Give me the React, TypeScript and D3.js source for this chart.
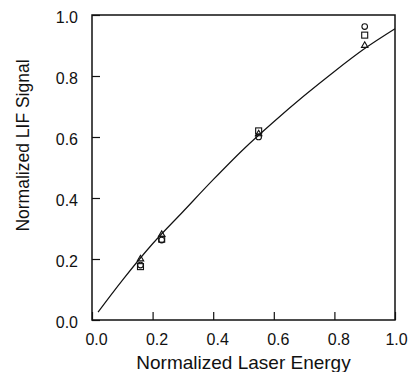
import React, { useEffect, useRef } from "react";
import * as d3 from "d3";

const energy = [0.16, 0.23, 0.55, 0.9];
const circleSignal = [0.18, 0.262, 0.6, 0.962];
const squareSignal = [0.175, 0.265, 0.62, 0.934];
const triangleSignal = [0.2, 0.28, 0.61, 0.9];

const fitX = [0.02, 0.1, 0.2, 0.3, 0.4, 0.5, 0.6, 0.7, 0.8, 0.9, 1.0];
const fitY = [0.026, 0.13, 0.25, 0.355, 0.46, 0.56, 0.65, 0.735, 0.815, 0.89, 0.955];

const tickValues = [0, 0.2, 0.4, 0.6, 0.8, 1.0];

const App = () => {
  const svgRef = useRef<SVGSVGElement>(null);

  useEffect(() => {
    const svg = d3.select(svgRef.current);
    svg.selectAll("*").remove();

    const width = 408, height = 372;
    const margin = { top: 15, right: 13, bottom: 52, left: 92 };
    const font = "'Liberation Sans', Arial, sans-serif";

    const x = d3.scaleLinear().domain([0, 1]).range([margin.left, width - margin.right]);
    const y = d3.scaleLinear().domain([0, 1]).range([height - margin.bottom, margin.top]);

    // frame
    svg.append("rect")
      .attr("x", x(0)).attr("y", y(1))
      .attr("width", x(1) - x(0)).attr("height", y(0) - y(1))
      .attr("fill", "none").attr("stroke", "#111").attr("stroke-width", 1.5);

    const xAxis = svg.append("g")
      .attr("transform", `translate(0,${y(0)})`)
      .call(d3.axisBottom(x).tickValues(tickValues).tickSizeInner(-8).tickSizeOuter(0).tickPadding(14).tickFormat(d3.format(".1f")));
    xAxis.select(".domain").remove();
    xAxis.selectAll("line").attr("stroke", "#111").attr("stroke-width", 1.2);
    xAxis.selectAll("text")
      .attr("dx", (d) => (d === 1 ? 1 : 4))
      .style("font-family", font).style("font-size", "16px").attr("fill", "#111");

    const yAxis = svg.append("g")
      .attr("transform", `translate(${x(0)},0)`)
      .call(d3.axisLeft(y).tickValues(tickValues).tickSizeInner(-8).tickSizeOuter(0).tickPadding(14).tickFormat(d3.format(".1f")));
    yAxis.select(".domain").remove();
    yAxis.selectAll("line").attr("stroke", "#111").attr("stroke-width", 1.2);
    yAxis.selectAll("text")
      .attr("dy", "0.45em")
      .style("font-family", font).style("font-size", "16px").attr("fill", "#111");

    // fit curve
    const line = d3.line<number>()
      .x((d) => x(d))
      .y((_, i) => y(fitY[i]))
      .curve(d3.curveMonotoneX);
    svg.append("path")
      .datum(fitX)
      .attr("d", line)
      .attr("fill", "none").attr("stroke", "#111").attr("stroke-width", 1.2);

    // markers
    const g = svg.append("g").attr("fill", "none").attr("stroke", "#111").attr("stroke-width", 1.1);
    g.selectAll("circle.c").data(energy).enter().append("circle")
      .attr("cx", (d) => x(d)).attr("cy", (_, i) => y(circleSignal[i])).attr("r", 2.8);
    g.selectAll("rect.s").data(energy).enter().append("rect")
      .attr("x", (d) => x(d) - 3).attr("y", (_, i) => y(squareSignal[i]) - 3)
      .attr("width", 6).attr("height", 6);
    const tri = d3.symbol().type(d3.symbolTriangle).size(18);
    g.selectAll("path.t").data(energy).enter().append("path")
      .attr("d", tri)
      .attr("transform", (d, i) => `translate(${x(d)},${y(triangleSignal[i])})`);

    // titles
    svg.append("text")
      .attr("x", (x(0) + x(1)) / 2).attr("y", 369)
      .attr("text-anchor", "middle")
      .style("font-family", font).style("font-size", "19px").attr("fill", "#111")
      .text("Normalized Laser Energy");
    svg.append("text")
      .attr("transform", `translate(29,${(y(0) + y(1)) / 2 - 22}) rotate(-90)`)
      .attr("text-anchor", "middle")
      .style("font-family", font).style("font-size", "17.5px").attr("fill", "#111")
      .text("Normalized LIF Signal");
  }, []);

  return (
    <svg ref={svgRef} width={408} height={372}
      style={{ position: "absolute", left: 0, top: 0, background: "#fff" }} />
  );
};

export default App;
